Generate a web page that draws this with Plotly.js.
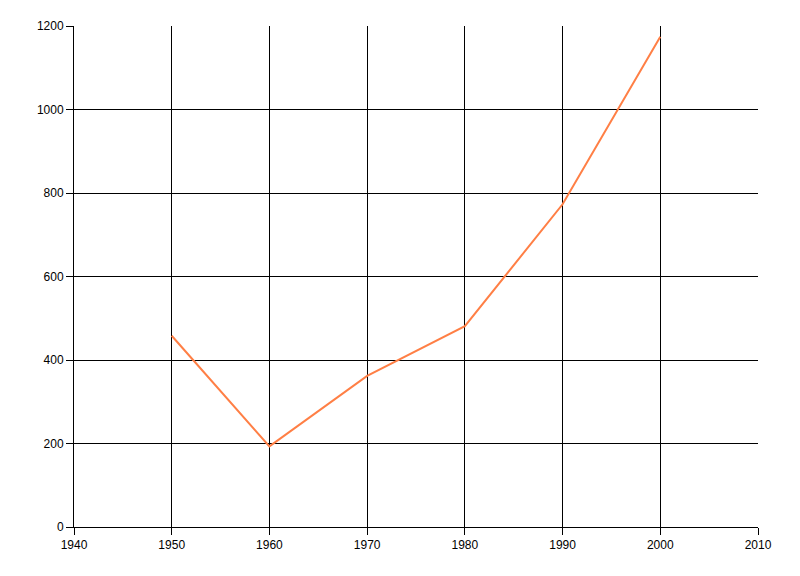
<!DOCTYPE html>
<html>
<head>
<meta charset="utf-8">
<script src="https://cdn.plot.ly/plotly-3.0.1.min.js"></script>
<style>html,body{margin:0;padding:0;background:#fff;}#chart{width:800px;height:576px;}</style>
</head>
<body>
<div id="chart"></div>
<script>
const years = [1950, 1960, 1970, 1980, 1990, 2000];
const values = [458, 193, 362, 481, 773, 1174];
const xTicks = [1940, 1950, 1960, 1970, 1980, 1990, 2000, 2010];
const yTicks = [0, 200, 400, 600, 800, 1000, 1200];

const trace = {
  x: years,
  y: values,
  type: 'scatter',
  mode: 'lines',
  line: {color: '#FF7F45', width: 2},
  hoverinfo: 'x+y'
};

const layout = {
  width: 800,
  height: 576,
  margin: {l: 74, r: 42, t: 26, b: 49},
  paper_bgcolor: '#ffffff',
  plot_bgcolor: '#ffffff',
  showlegend: false,
  font: {family: 'Liberation Sans, Arial, sans-serif', size: 12, color: '#000'},
  xaxis: {
    range: [1940, 2010],
    tickvals: xTicks,
    ticktext: xTicks.map(String),
    ticks: 'outside',
    ticklen: 7,
    tickcolor: '#000',
    tickwidth: 1,
    showgrid: true,
    gridcolor: '#000',
    gridwidth: 1,
    showline: true,
    linecolor: '#000',
    linewidth: 1,
    mirror: false,
    zeroline: false,
    tickfont: {size: 12, color: '#000'}
  },
  yaxis: {
    range: [0, 1200],
    tickvals: yTicks,
    ticktext: yTicks.map(String),
    ticks: 'outside',
    ticklen: 7,
    tickcolor: '#000',
    tickwidth: 1,
    showgrid: true,
    gridcolor: '#000',
    gridwidth: 1,
    showline: true,
    linecolor: '#000',
    linewidth: 1,
    zeroline: false,
    tickfont: {size: 12, color: '#000'}
  }
};

Plotly.newPlot('chart', [trace], layout, {displayModeBar: false, staticPlot: true});
</script>
</body>
</html>
